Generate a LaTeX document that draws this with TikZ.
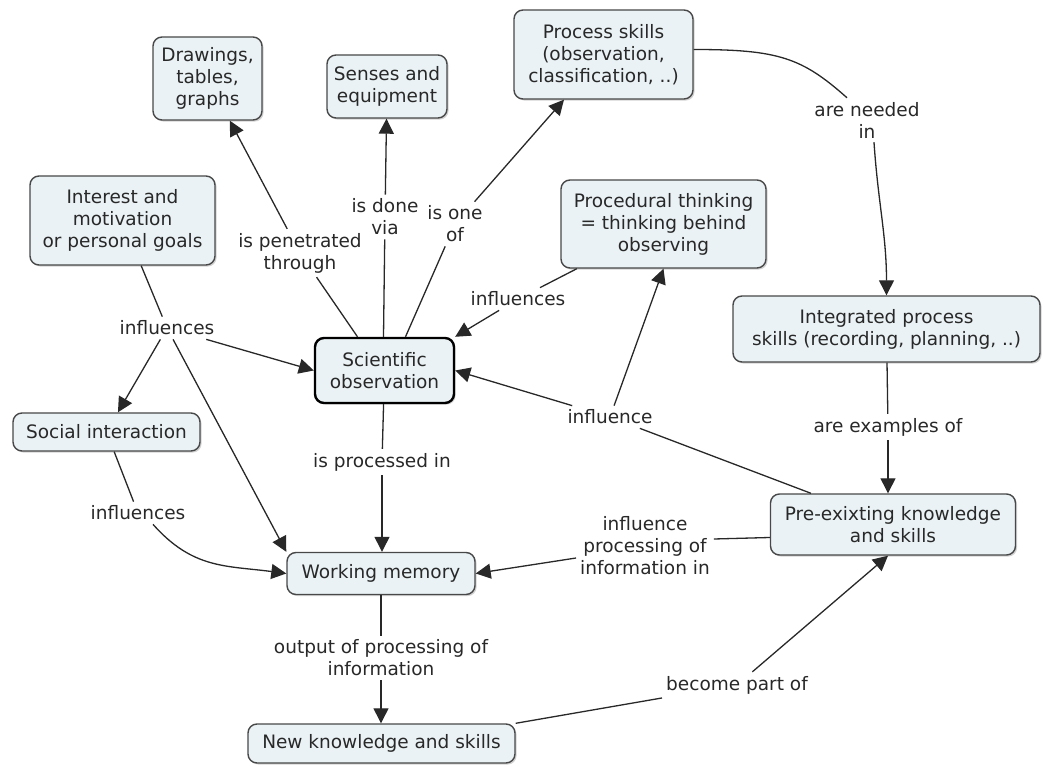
\documentclass[tikz,border=0pt]{standalone}
\usepackage{fontspec}
\setmainfont{DejaVu Sans}
\usetikzlibrary{arrows.meta,shadows}
\definecolor{boxfill}{RGB}{234,242,245}
\definecolor{ink}{RGB}{40,40,40}
\begin{document}
\begin{tikzpicture}[x=1pt,y=-1pt,
  font=\fontsize{18.5}{22}\selectfont,
  concept/.style={draw=ink!85, line width=1.4pt, rounded corners=9pt, fill=boxfill,
    align=center, text=ink, inner sep=2pt,
    drop shadow={shadow xshift=1.6pt, shadow yshift=-1.6pt, fill=black!35}},
  link/.style={align=center, text=ink, inner sep=4pt},
  conn/.style={draw=ink, line width=1.3pt},
  arr/.style={conn, -{Triangle[length=15pt,width=15pt]}}
]
\useasboundingbox (0,0) rectangle (1045,767);

% concepts
\node[concept, minimum width=109pt, minimum height=83pt] (drw) at (207.5,78.5) {Drawings,\\tables,\\graphs};
\node[concept, minimum width=120pt, minimum height=63pt] (sen) at (387,86.5) {Senses and\\equipment};
\node[concept, minimum width=179pt, minimum height=89pt] (proc) at (603.5,54.5) {Process skills\\(observation,\\classification, ..)};
\node[concept, minimum width=185pt, minimum height=89pt] (int) at (122.5,220.5) {Interest and\\motivation\\or personal goals};
\node[concept, minimum width=205pt, minimum height=88pt] (pt) at (663.5,224) {Procedural thinking\\= thinking behind\\observing};
\node[concept, line width=2.4pt, draw=black, minimum width=139pt, minimum height=65pt] (sci) at (384.5,370.5) {Scientific\\observation};
\node[concept, minimum width=307pt, minimum height=66pt] (ips) at (886.5,329) {Integrated process\\skills (recording, planning, ..)};
\node[concept, minimum width=187pt, minimum height=38pt] (soc) at (106.5,432) {Social interaction};
\node[concept, minimum width=245pt, minimum height=61pt] (pre) at (893,524.5) {Pre-exixting knowledge\\and skills};
\node[concept, minimum width=188pt, minimum height=42pt] (wm) at (381,573.5) {Working memory};
\node[concept, minimum width=267pt, minimum height=39pt] (new) at (381.5,743.5) {New knowledge and skills};

% linking phrases
\node[link] (l1) at (300,253) {is penetrated\\through};
\node[link] (l2) at (385,217) {is done\\via};
\node[link] (l3) at (455,224) {is one\\of};
\node[link] (l4) at (518,299) {influences};
\node[link] (l5) at (167,328) {influences};
\node[link] (l6) at (138,513) {influences};
\node[link] (l7) at (382,462) {is processed in};
\node[link] (l8) at (610,417) {influence};
\node[link] (l9) at (645,546) {influence\\processing of\\information in};
\node[link] (l10) at (867,120) {are needed\\in};
\node[link] (l11) at (888,427) {are examples of};
\node[link] (l12) at (381,658) {output of processing of\\information};
\node[link] (l13) at (737,685) {become part of};

% connectors
\draw[conn] ([xshift=-27pt]sci.north) -- (l1);
\draw[arr] (l1) -- (drw);
\draw[conn] ([xshift=-1pt]sci.north) -- (l2);
\draw[arr] (l2) -- (sen);
\draw[conn] ([xshift=21pt]sci.north) -- (l3);
\draw[arr] (l3) -- (proc);

\draw[conn] (pt) -- (l4);
\draw[arr] (l4) -- (sci.north east);

\draw[conn] (int) -- (l5);
\draw[arr] (l5) -- (soc);
\draw[arr] (l5) -- (sci.west);
\draw[arr] (l5) -- (wm.north west);

\draw[conn] (soc) -- (l6);
\draw[arr] ([xshift=15pt]l6.south) .. controls +(40,45) and +(-60,-8) .. (wm.west);

\draw[conn] (sci) -- (l7);
\draw[arr] (l7) -- (l7 |- wm.north);

\draw[conn] (pre) -- (l8);
\draw[arr] (l8) -- (sci.east);
\draw[arr] (l8) -- (pt.south);

\draw[conn] ([yshift=-13pt]pre.west) -- ([yshift=7pt]l9.east);
\draw[arr] ([yshift=-12pt]l9.west) -- (wm.east);

\draw[conn] ([yshift=5pt]proc.east) .. controls +(85,0) and +(-45,-40) .. ([xshift=-20pt]l10.north);
\draw[arr] ([xshift=7pt]l10.south) .. controls +(4,60) and +(0,-60) .. (ips.north);

\draw[conn] (ips) -- (l11);
\draw[arr] (l11) -- (l11 |- pre.north);

\draw[conn] (wm) -- (l12);
\draw[arr] (l12) -- (l12 |- new.north);

\draw[conn] (new.north east) -- (l13);
\draw[arr] (l13) -- ([xshift=-5pt]pre.south);
\end{tikzpicture}
\end{document}
